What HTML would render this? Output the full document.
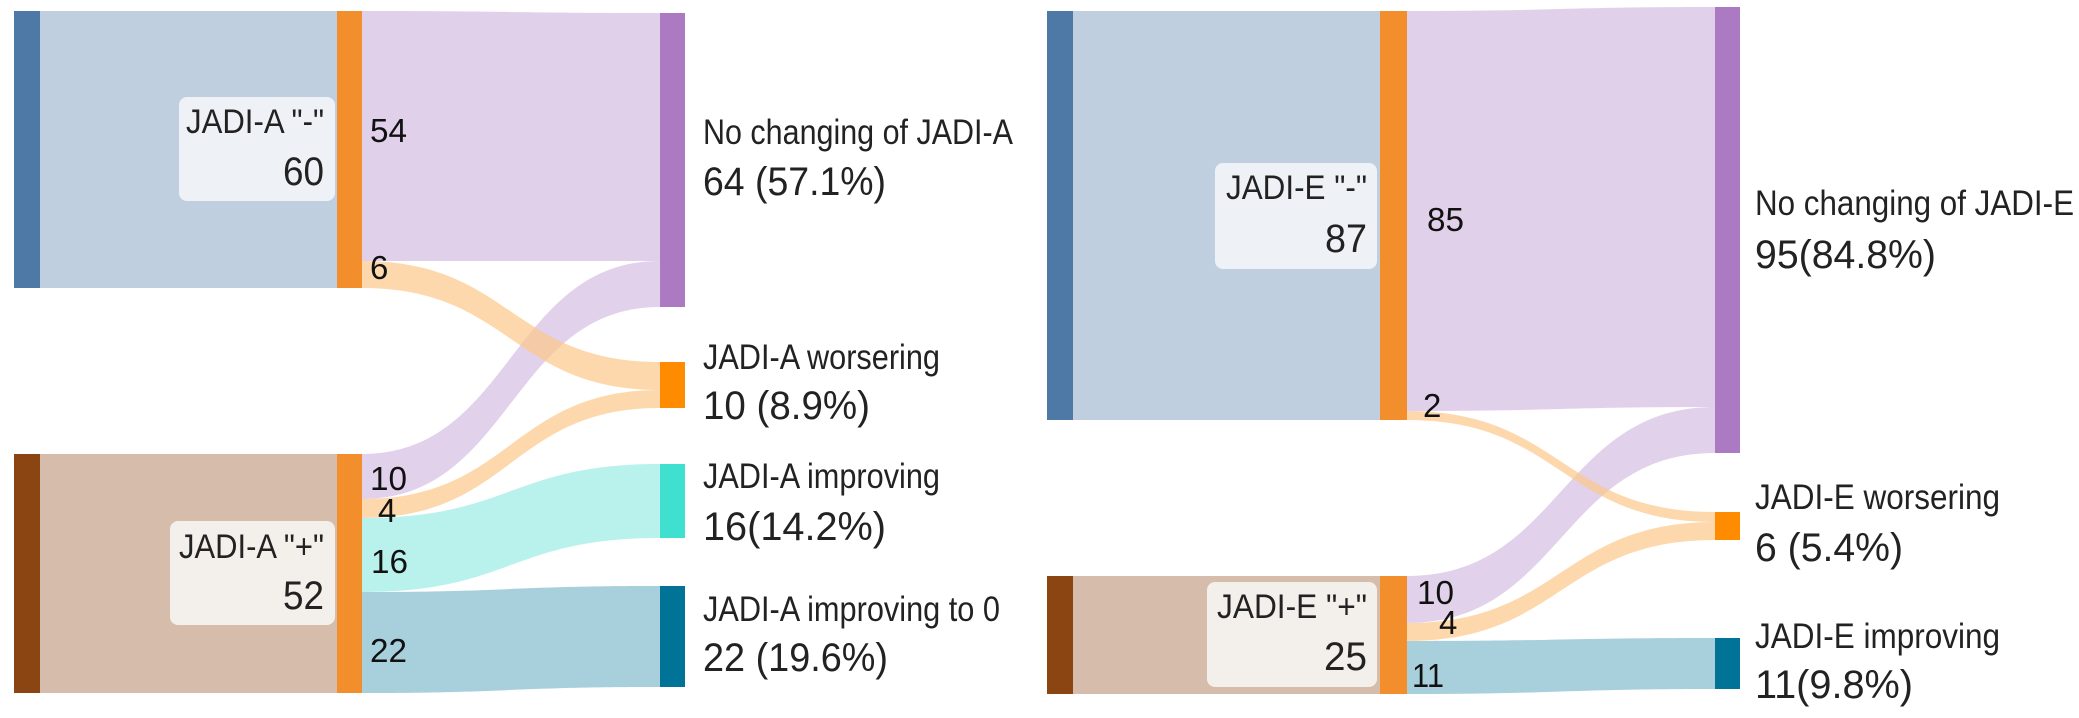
<!DOCTYPE html>
<html><head><meta charset="utf-8"><style>
html,body{margin:0;padding:0;background:#fff;}
svg{display:block;font-family:"Liberation Sans",Arial,sans-serif;}
</style></head><body>
<svg width="2079" height="718" viewBox="0 0 2079 718" xmlns="http://www.w3.org/2000/svg">
<!-- LEFT PANEL -->
<rect x="14" y="11" width="26" height="277" fill="#4e79a7"/>
<rect x="40" y="11" width="298" height="277" fill="#bfcfdf"/>
<rect x="14" y="454" width="26" height="239" fill="#8b4513"/>
<rect x="40" y="454" width="298" height="239" fill="#d6bcaa"/>
<path d="M362,11 C511,11 511,13 660,13 L660,261 C511,261 511,261 362,261 Z" fill="#e1d0ea"/>
<path d="M362,454 C511,454 511,261 660,261 L660,307 C511,307 511,499 362,499 Z" fill="#d8c2e4" opacity="0.75"/>
<path d="M362,261 C511,261 511,362 660,362 L660,390 C511,390 511,288 362,288 Z" fill="#fdc88a" opacity="0.7"/>
<path d="M362,499 C511,499 511,390 660,390 L660,408 C511,408 511,518 362,518 Z" fill="#fdc88a" opacity="0.7"/>
<path d="M362,518 C511,518 511,464 660,464 L660,538 C511,538 511,592 362,592 Z" fill="#b9f2ec"/>
<path d="M362,592 C511,592 511,586 660,586 L660,687 C511,687 511,693 362,693 Z" fill="#a8cfdc"/>
<rect x="337" y="11" width="25" height="277" fill="#f28e2b"/>
<rect x="337" y="454" width="25" height="239" fill="#f28e2b"/>
<rect x="660" y="13" width="25" height="294" fill="#ab7ac2"/>
<rect x="660" y="362" width="25" height="46" fill="#ff8c00"/>
<rect x="660" y="464" width="25" height="74" fill="#40e0d0"/>
<rect x="660" y="586" width="25" height="101" fill="#007396"/>
<rect x="179" y="97" width="156" height="104" rx="8" fill="#eef2f7"/>
<text x="324" y="133" font-size="34" text-anchor="end" textLength="138" lengthAdjust="spacingAndGlyphs" fill="#222">JADI-A "-"</text>
<text x="324" y="185" font-size="40" text-anchor="end" textLength="41" lengthAdjust="spacingAndGlyphs" fill="#222">60</text>
<rect x="170" y="521" width="165" height="104" rx="8" fill="#f3efea"/>
<text x="324" y="558" font-size="34" text-anchor="end" textLength="145" lengthAdjust="spacingAndGlyphs" fill="#222">JADI-A "+"</text>
<text x="324" y="609" font-size="40" text-anchor="end" textLength="41" lengthAdjust="spacingAndGlyphs" fill="#222">52</text>
<g font-size="33" fill="#111">
<text x="370" y="142" textLength="37" lengthAdjust="spacingAndGlyphs">54</text>
<text x="370" y="279">6</text>
<text x="370" y="490" textLength="37" lengthAdjust="spacingAndGlyphs">10</text>
<text x="378" y="522">4</text>
<text x="371" y="573" textLength="37" lengthAdjust="spacingAndGlyphs">16</text>
<text x="370" y="662" textLength="37" lengthAdjust="spacingAndGlyphs">22</text>
</g>
<g fill="#222">
<text x="703" y="144" font-size="35" textLength="310" lengthAdjust="spacingAndGlyphs">No changing of JADI-A</text>
<text x="703" y="195" font-size="40" textLength="183" lengthAdjust="spacingAndGlyphs">64 (57.1%)</text>
<text x="703" y="369" font-size="35" textLength="237" lengthAdjust="spacingAndGlyphs">JADI-A worsering</text>
<text x="703" y="419" font-size="40" textLength="167" lengthAdjust="spacingAndGlyphs">10 (8.9%)</text>
<text x="703" y="488" font-size="35" textLength="237" lengthAdjust="spacingAndGlyphs">JADI-A improving</text>
<text x="703" y="540" font-size="40" textLength="183" lengthAdjust="spacingAndGlyphs">16(14.2%)</text>
<text x="703" y="621" font-size="35" textLength="297" lengthAdjust="spacingAndGlyphs">JADI-A improving to 0</text>
<text x="703" y="671" font-size="40" textLength="185" lengthAdjust="spacingAndGlyphs">22 (19.6%)</text>
</g>

<!-- RIGHT PANEL -->
<rect x="1047" y="11" width="26" height="409" fill="#4e79a7"/>
<rect x="1073" y="11" width="307" height="409" fill="#bfcfdf"/>
<rect x="1047" y="576" width="26" height="118" fill="#8b4513"/>
<rect x="1073" y="576" width="307" height="118" fill="#d6bcaa"/>
<path d="M1407,11 C1561,11 1561,7 1715,7 L1715,407 C1561,407 1561,411 1407,411 Z" fill="#e1d0ea"/>
<path d="M1407,576 C1561,576 1561,407 1715,407 L1715,453 C1561,453 1561,623 1407,623 Z" fill="#d8c2e4" opacity="0.75"/>
<path d="M1407,411 C1561,411 1561,512 1715,512 L1715,522 C1561,522 1561,420 1407,420 Z" fill="#fdc88a" opacity="0.7"/>
<path d="M1407,623 C1561,623 1561,522 1715,522 L1715,540 C1561,540 1561,641 1407,641 Z" fill="#fdc88a" opacity="0.7"/>
<path d="M1407,641 C1561,641 1561,638 1715,638 L1715,689 C1561,689 1561,694 1407,694 Z" fill="#a8cfdc"/>
<rect x="1380" y="11" width="27" height="409" fill="#f28e2b"/>
<rect x="1380" y="576" width="27" height="118" fill="#f28e2b"/>
<rect x="1715" y="7" width="25" height="446" fill="#ab7ac2"/>
<rect x="1715" y="512" width="25" height="28" fill="#ff8c00"/>
<rect x="1715" y="638" width="25" height="51" fill="#007396"/>
<rect x="1215" y="163" width="162" height="106" rx="8" fill="#eef2f7"/>
<text x="1367" y="199" font-size="34" text-anchor="end" textLength="141" lengthAdjust="spacingAndGlyphs" fill="#222">JADI-E "-"</text>
<text x="1367" y="252" font-size="40" text-anchor="end" textLength="42" lengthAdjust="spacingAndGlyphs" fill="#222">87</text>
<rect x="1207" y="582" width="170" height="105" rx="8" fill="#f3efea"/>
<text x="1367" y="618" font-size="34" text-anchor="end" textLength="150" lengthAdjust="spacingAndGlyphs" fill="#222">JADI-E "+"</text>
<text x="1367" y="670" font-size="40" text-anchor="end" textLength="43" lengthAdjust="spacingAndGlyphs" fill="#222">25</text>
<g font-size="33" fill="#111">
<text x="1427" y="231" textLength="37" lengthAdjust="spacingAndGlyphs">85</text>
<text x="1423" y="417">2</text>
<text x="1417" y="604" textLength="37" lengthAdjust="spacingAndGlyphs">10</text>
<text x="1439" y="634">4</text>
<text x="1412" y="687" textLength="32" lengthAdjust="spacingAndGlyphs">11</text>
</g>
<g fill="#222">
<text x="1755" y="215" font-size="35" textLength="319" lengthAdjust="spacingAndGlyphs">No changing of JADI-E</text>
<text x="1755" y="268" font-size="40" textLength="181" lengthAdjust="spacingAndGlyphs">95(84.8%)</text>
<text x="1755" y="509" font-size="35" textLength="245" lengthAdjust="spacingAndGlyphs">JADI-E worsering</text>
<text x="1755" y="561" font-size="40" textLength="148" lengthAdjust="spacingAndGlyphs">6 (5.4%)</text>
<text x="1755" y="648" font-size="35" textLength="245" lengthAdjust="spacingAndGlyphs">JADI-E improving</text>
<text x="1755" y="698" font-size="40" textLength="158" lengthAdjust="spacingAndGlyphs">11(9.8%)</text>
</g>
</svg>
</body></html>
